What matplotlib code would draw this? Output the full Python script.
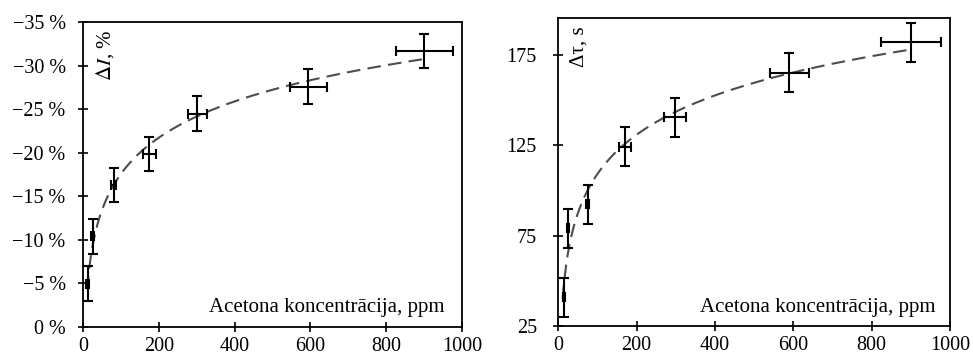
import numpy as np
import matplotlib
matplotlib.use("Agg")
import matplotlib.pyplot as plt
from matplotlib.ticker import FuncFormatter

plt.rcParams['font.family'] = ['Liberation Serif', 'DejaVu Serif']
plt.rcParams['mathtext.fontset'] = 'stix'

# Left panel: relative change of current, %
conc_I = [13, 26, 81, 175, 302, 595, 900]
conc_I_err = [4, 4, 6, 17, 26, 50, 75]
dI = [-4.96, -10.4, -16.3, -19.85, -24.5, -27.56, -31.68]
dI_err = [2.0, 2.0, 2.0, 2.0, 2.0, 2.0, 2.0]

# Right panel: response time change, s
conc_t = [14, 24, 75, 171, 298, 590, 900]
conc_t_err = [3, 3, 4, 15, 28, 50, 76]
dtau = [41.0, 78.9, 92.3, 124.1, 140.3, 165.0, 181.8]
dtau_err = [10.8, 10.8, 10.8, 10.8, 10.8, 10.8, 10.8]

xticks = [0, 200, 400, 600, 800, 1000]
yticks_I = [0, -5, -10, -15, -20, -25, -30, -35]
yticks_t = [25, 75, 125, 175]
xlabel = "Acetona koncentrācija, ppm"

fig = plt.figure(figsize=(9.73, 3.62), dpi=100)
ax1 = fig.add_axes([0.0853, 0.0967, 0.3895, 0.8425])
ax2 = fig.add_axes([0.5738, 0.0994, 0.4026, 0.8500])

fs = 14.5
fs_lab = 15

def draw(ax, x, xe, y, ye, ylim, yticks, fmt, ylab, ylab_x, xlab_x, xlab_y, ypad):
    x = np.array(x, float); y = np.array(y, float)
    # logarithmic trendline fitted to the data
    a, b = np.polyfit(np.log(x), y, 1)
    xf = np.linspace(11, 900, 400)
    ax.plot(xf, a * np.log(xf) + b, color='#4d4d4d', lw=1.5, dashes=(6.5, 3.5))
    ax.errorbar(x, y, xerr=xe, yerr=ye, fmt='none', ecolor='black',
                elinewidth=1.5, capsize=3.5, capthick=1.5)
    ax.set_xlim(0, 1000)
    ax.set_ylim(*ylim)
    ax.set_xticks(xticks)
    ax.set_yticks(yticks)
    ax.yaxis.set_major_formatter(FuncFormatter(fmt))
    ax.tick_params(direction='inout', length=7, width=1.2, labelsize=fs)
    ax.tick_params(axis='x', pad=4)
    ax.tick_params(axis='y', pad=ypad)
    for s in ax.spines.values():
        s.set_linewidth(1.3)
    ax.text(ylab_x, 0.975, ylab, rotation=90, transform=ax.transAxes,
            ha='center', va='top', fontsize=fs_lab)
    ax.text(xlab_x, xlab_y, xlabel, transform=ax.transAxes,
            ha='right', va='baseline', fontsize=fs_lab)

def fmt_pct(v, pos):
    v = int(round(v))
    return ("\u2212" if v < 0 else "") + f"{abs(v)} %"

def fmt_int(v, pos):
    return f"{int(round(v))}"

draw(ax1, conc_I, conc_I_err, dI, dI_err, (0, -35), yticks_I, fmt_pct,
     r"$\Delta\mathit{I}$, %", 0.058, 0.955, 0.05, 9)
draw(ax2, conc_t, conc_t_err, dtau, dtau_err, (25, 195), yticks_t, fmt_int,
     "Δτ, s", 0.053, 0.964, 0.046, 12)

fig.savefig("out.png", dpi=100)
